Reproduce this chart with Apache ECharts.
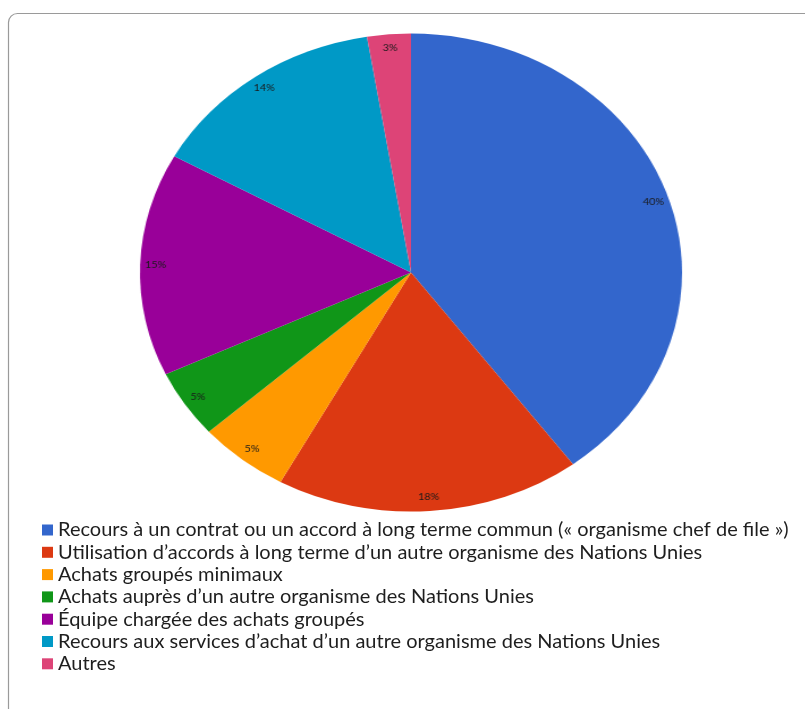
<!DOCTYPE html>
<html>
<head>
<meta charset="utf-8">
<script src="https://cdn.jsdelivr.net/npm/echarts@6/dist/echarts.min.js"></script>
<style>
  html, body { margin:0; padding:0; background:#fff; width:805px; height:709px; overflow:hidden; }
  #legendChart { position:absolute; left:0; top:0; width:805px; height:709px; }
  #pieChart { position:absolute; left:0; top:0; width:805px; height:709px; transform: scaleX(1.134); transform-origin: 411px 0; }
</style>
</head>
<body>
<div id="legendChart"></div>
<div id="pieChart"></div>
<script>
const categories = [
  "Recours à un contrat ou un accord à long terme commun (« organisme chef de file »)",
  "Utilisation d’accords à long terme d’un autre organisme des Nations Unies",
  "Achats groupés minimaux",
  "Achats auprès d’un autre organisme des Nations Unies",
  "Équipe chargée des achats groupés",
  "Recours aux services d’achat d’un autre organisme des Nations Unies",
  "Autres"
];
const shares = [39.8, 18.2, 5.4, 4.6, 15.1, 14.3, 2.6];
const colors = ["#3366CC", "#DC3912", "#FF9900", "#109618", "#990099", "#0099C6", "#DD4477"];

const pieData = categories.map((n, i) => ({ name: n, value: shares[i], itemStyle: { color: colors[i] } }));

// Fit legend font size so the longest entry spans like the reference
const family = 'Lato';
const ctx = document.createElement('canvas').getContext('2d');
ctx.font = '100px ' + family;
const w100 = ctx.measureText(categories[0]).width;
const legendFont = Math.min(20, 100 * 734 / w100);

const legendChart = echarts.init(document.getElementById('legendChart'), null, { renderer: 'canvas' });
legendChart.setOption({
  animation: false,
  graphic: [{
    type: 'rect', silent: true,
    shape: { x: 8.5, y: 13.5, width: 900, height: 800, r: 9 },
    style: { fill: 'none', stroke: '#9a9a9a', lineWidth: 1.2 }
  }],
  legend: {
    orient: 'vertical', left: 37, top: 515,
    itemWidth: 11, itemHeight: 11, itemGap: 2.3, icon: 'rect',
    selectedMode: false,
    textStyle: { fontFamily: family, fontSize: legendFont, color: '#1e1e1e', lineHeight: 20 },
    data: categories
  },
  series: [{
    type: 'pie', radius: [0, 0], center: [-100, -100], silent: true,
    label: { show: false }, labelLine: { show: false },
    data: pieData
  }]
});

const pieChart = echarts.init(document.getElementById('pieChart'), null, { renderer: 'canvas' });
const R = 239;
pieChart.setOption({
  animation: false,
  series: [{
    type: 'pie', center: [411, 272.6], radius: [0, R], startAngle: 90, clockwise: true,
    silent: true,
    label: { show: false }, labelLine: { show: false },
    itemStyle: { borderWidth: 0 },
    data: pieData
  }, {
    type: 'pie', center: [411, 272.6], radius: [R * 0.86, R], startAngle: 90, clockwise: true,
    silent: true,
    itemStyle: { color: 'rgba(0,0,0,0)', borderWidth: 0 },
    label: {
      show: true, position: 'inside', color: '#1a1a1a',
      fontFamily: family, fontSize: 9.5,
      formatter: p => Math.round(p.percent) + '%'
    },
    labelLine: { show: false },
    data: categories.map((n, i) => ({ name: n, value: shares[i] }))
  }]
});
</script>
</body>
</html>
